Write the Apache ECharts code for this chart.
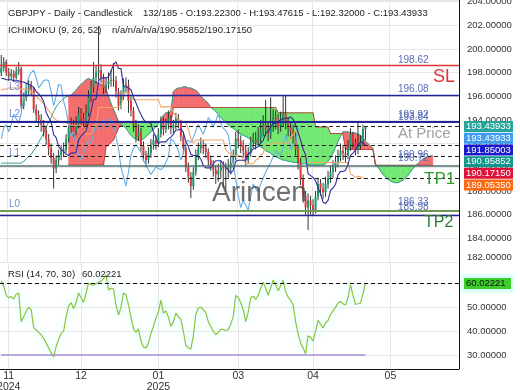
<!DOCTYPE html>
<html><head><meta charset="utf-8">
<script src="https://cdn.jsdelivr.net/npm/echarts@6/dist/echarts.min.js"></script>
<style>html,body{margin:0;padding:0;background:#fff}#c{width:520px;height:390px}</style>
</head><body><div id="c"></div>
<script>
const SLOTS = 184;
const monthIdx = [3, 32, 63, 95, 125, 156];
const monthLabels = ['11\n2024', '12', '01\n2025', '03', '04', '05'];

// [open, close, low, high]
const ohlc = [
[198.0,198.4,197.7,199.5],[198.4,198.9,198.1,199.3],[198.9,198.0,197.7,199.1],[198.0,197.7,197.3,198.4],[197.7,197.9,197.4,198.3],
[197.9,197.6,197.2,198.2],[197.6,198.1,197.4,198.5],[198.1,198.3,197.8,198.9],[198.3,195.2,194.9,198.5],[195.2,195.9,194.9,196.3],
[195.9,196.5,195.6,197.1],[196.5,196.9,196.1,197.4],[196.9,196.6,196.1,197.3],[196.6,194.9,194.6,196.8],[194.9,194.4,193.9,195.3],
[194.4,194.0,193.5,194.8],[194.0,193.6,193.0,194.5],[193.6,193.1,192.6,194.0],[193.1,192.4,191.9,193.5],[192.4,191.6,191.0,192.8],
[191.6,190.8,190.3,192.0],[190.8,189.9,188.2,191.2],[189.9,190.6,189.5,191.0],[190.6,191.0,190.2,191.5],[191.0,191.4,190.6,191.9],
[191.4,191.5,190.9,192.1],[191.5,192.4,191.2,192.8],[192.4,193.3,192.1,193.8],[193.3,193.6,192.9,194.2],[193.6,193.0,192.6,194.0],
[193.0,193.6,192.7,194.3],[193.6,194.5,193.3,195.1],[194.5,194.1,193.6,195.0],[194.1,193.7,193.2,194.6],[193.7,194.6,193.4,195.3],
[194.6,195.9,194.3,196.5],[195.9,196.8,195.5,197.3],[196.8,197.6,196.3,198.9],[197.6,198.0,197.1,198.6],[198.0,198.2,197.4,201.9],
[198.2,197.6,197.1,198.7],[197.6,196.7,196.2,197.9],[196.7,197.0,196.3,197.6],[197.0,197.3,196.6,198.0],[197.3,197.4,196.8,198.2],
[197.4,197.3,196.8,198.8],[197.3,196.4,195.9,197.7],[196.4,195.2,194.8,196.7],[195.2,196.0,194.9,196.5],[196.0,197.0,195.7,197.5],
[197.0,196.9,196.3,197.6],[196.9,195.6,194.6,197.4],[195.6,194.8,194.3,196.0],[194.8,193.6,193.0,195.1],[193.6,192.6,192.1,194.0],
[192.6,193.0,192.2,193.6],[193.0,191.8,191.3,193.3],[191.8,191.0,190.5,192.2],[191.0,190.6,190.0,191.4],[190.6,191.2,190.3,191.7],
[191.2,191.9,190.8,192.4],[191.9,192.3,191.5,192.8],[192.3,192.0,191.5,192.7],[192.0,192.8,191.7,193.3],[192.8,193.8,192.5,194.3],
[193.8,193.2,192.7,194.2],[193.2,193.6,192.9,194.1],[193.6,194.1,193.2,194.8],[194.1,193.3,192.8,194.4],[193.3,193.6,192.9,194.0],
[193.6,194.1,193.2,194.6],[194.1,193.8,193.3,194.5],[193.8,192.6,192.2,194.0],[192.6,191.6,191.1,192.9],[191.6,190.0,189.6,191.9],
[190.0,189.2,188.7,190.4],[189.2,188.4,187.4,189.6],[188.4,189.6,188.1,190.0],[189.6,191.0,189.3,191.5],[191.0,191.6,190.6,192.1],
[191.6,191.9,191.2,192.5],[191.9,191.6,191.1,192.3],[191.6,191.3,190.8,192.0],[191.3,190.6,190.1,191.6],[190.6,190.2,189.7,191.0],
[190.2,189.8,189.2,190.6],[189.8,189.4,188.6,190.2],[189.4,189.7,188.8,190.3],[189.7,190.0,189.1,190.6],[190.0,189.9,188.3,190.5],
[189.9,189.8,188.0,190.4],[189.8,190.0,189.0,190.7],[190.0,190.4,189.4,191.0],[190.4,190.9,189.9,191.5],[190.9,192.4,190.6,193.0],
[192.4,192.2,191.6,193.2],[192.2,191.9,191.2,192.7],[191.9,191.4,190.8,192.3],[191.4,190.6,190.1,191.8],[190.6,191.2,190.3,191.7],
[191.2,192.1,190.9,192.6],[192.1,192.3,191.6,192.9],[192.3,192.1,191.5,193.0],[192.1,192.5,191.8,193.4],[192.5,193.1,192.1,194.0],
[193.1,193.6,192.6,194.4],[193.6,193.2,192.6,195.7],[193.2,192.8,192.2,193.9],[192.8,193.4,192.4,195.9],[193.4,194.2,193.0,194.9],
[194.2,193.9,193.2,194.8],[193.9,193.4,192.8,194.5],[193.4,193.9,193.0,194.7],[193.9,194.5,193.5,196.0],[194.5,193.7,193.2,196.1],
[193.7,193.3,192.6,194.2],[193.3,193.1,192.4,193.9],[193.1,192.7,192.0,193.6],[192.7,191.5,191.0,193.0],[191.5,190.4,189.8,191.9],
[190.4,189.0,188.5,190.8],[189.0,187.6,187.0,189.4],[187.6,186.6,186.0,188.0],[186.6,187.2,184.7,187.8],[187.2,186.8,186.0,187.6],
[186.8,186.4,185.9,187.3],[186.4,187.5,186.1,188.0],[187.5,188.6,187.2,189.1],[188.6,188.2,187.6,189.0],[188.2,187.9,187.3,188.7],
[187.9,188.6,187.5,189.2],[188.6,189.1,188.2,189.7],[189.1,189.6,188.7,190.2],[189.6,190.0,189.1,190.6],[190.0,190.4,189.6,191.0],
[190.4,190.9,190.0,191.5],[190.9,191.4,190.5,192.0],[191.4,191.2,190.6,191.9],[191.2,191.0,190.4,191.7],[191.0,191.7,190.7,192.3],
[191.7,192.8,191.4,193.3],[192.8,192.1,191.6,193.0],[192.1,191.5,191.0,192.4],[191.5,191.9,191.1,193.8],[191.9,192.1,191.5,192.7],
[192.1,193.22,191.8,193.6],[193.223,193.43933,192.32,193.47615]
];

const tenkan = [
197.5,197.5,197.4,197.4,197.4,197.3,197.3,197.3,197.2,197.2,197.1,197.0,196.9,196.75,196.4,196.2,
195.95,195.55,194.65,194.2,193.85,192.75,192.5,191.75,191.5,191.35,191.1,191.0,191.2,191.2,191.25,192.3,
192.65,192.85,193.1,193.85,194.7,195.75,195.75,197.3,197.55,197.55,197.55,197.65,198.1,198.7,198.9,198.35,
198.35,196.8,196.8,196.7,196.55,195.9,195.45,194.9,194.45,194.05,193.8,193.8,193.7,193.0,192.55,192.0,
192.15,192.15,192.15,192.4,192.55,192.8,193.15,193.15,193.25,192.95,192.2,191.75,191.1,
191.0,191.0,190.95,190.7,190.15,189.95,189.95,189.95,190.3,190.55,190.55,190.55,190.3,190.0,189.8,189.5,
189.75,190.5,190.6,190.6,190.6,190.6,191.1,191.3,191.55,191.65,191.75,192.05,192.25,192.9,193.0,193.4,
193.7,193.7,193.85,194.0,194.1,194.15,194.15,194.25,194.05,193.55,192.95,192.3,191.55,191.05,189.45,189.3,
189.15,188.85,188.3,187.75,187.05,186.95,187.2,188.05,188.25,188.55,189.35,189.65,189.65,189.75,190.25,191.0,
191.2,191.45,191.9,192.1,192.1,191.85
];

const kijun = [
196.5,196.6,196.6,196.7,196.7,196.7,196.7,196.7,196.6,196.6,196.6,196.5,196.4,
196.2,196.0,195.8,195.6,195.4,195.1,194.8,194.5,194.2,194.0,193.9,193.85,
193.85,193.75,193.65,193.55,193.55,193.55,193.55,193.55,193.35,192.8,192.8,192.8,193.55,193.55,
195.05,195.05,195.05,195.05,195.05,195.05,195.05,195.05,195.1,195.1,
196.3,196.3,196.3,196.0,
195.7,195.7,195.7,195.7,195.7,195.7,195.7,195.7,195.7,195.7,195.7,
195.1,195.1,195.1,195.1,195.1,
194.6,194.3,194.0,193.85,193.85,193.75,193.25,192.45,192.05,
192.3,192.3,192.3,192.3,192.3,192.3,192.3,192.3,192.3,192.3,192.3,192.3,
191.5,191.25,191.15,191.0,191.0,191.0,190.95,190.7,190.3,190.3,190.3,190.3,
190.6,190.7,191.0,191.2,191.85,191.85,191.95,192.05,192.05,192.05,192.05,192.05,192.05,192.05,
192.55,192.75,193.0,192.95,192.3,191.55,191.05,
190.4,190.4,190.4,190.4,190.4,190.4,190.4,190.4,190.4,190.4,190.4,190.4,190.4,190.4,190.4,190.4,190.4,
189.45,189.3,189.15,189.25,189.2,189.1,189.05
];

const spanA = [
190.35,190.35,190.35,190.35,190.35,190.35,190.35,190.35,190.35,
190.5,190.7,190.9,191.1,191.4,191.7,192.1,192.5,192.9,193.4,193.8,194.2,194.7,195.1,195.4,195.6,195.8,195.95,196.0,
196.1,196.3,196.5,196.8,197.0,197.2,197.4,197.5,197.4,197.3,197.2,197.1,197.0,196.9,196.6,196.0,195.4,194.9,194.4,193.9,193.6,193.5,
193.3,193.0,192.7,192.5,192.4,192.3,192.3,192.4,192.6,192.8,193.0,193.2,193.4,193.7,194.0,
194.4,194.6,194.6,194.7,196.4,196.6,196.7,196.7,196.8,196.8,196.7,196.7,196.6,196.5,196.3,196.0,195.8,195.6,195.4,195.05,
194.9,194.7,194.5,194.2,194.0,193.8,193.6,193.4,193.3,193.1,192.9,192.8,192.7,192.6,192.5,192.3,192.1,192.0,191.9,191.7,
191.6,191.4,191.3,191.2,191.0,190.9,190.8,190.7,190.6,190.6,190.5,190.5,190.4,190.4,190.4,190.3,190.3,190.3,190.2,190.2,
190.2,190.2,190.2,190.2,190.2,190.3,190.5,190.8,191.2,191.7,192.2,192.6,193.0,
193.0,193.0,192.9,192.9,192.9,192.8,192.7,192.5,192.2,192.0,191.8,191.6,190.3,190.0,189.7,189.4,189.2,189.0,188.85,188.75,
188.7,188.7,188.8,188.9,189.1,189.3,189.6,189.9,190.1,190.3,190.5,190.7,190.8,190.9,190.95,190.95852
];

const spanB = [
null,null,null,null,null,null,null,null,null,null,null,null,null,null,null,null,null,null,null,null,null,null,null,null,null,null,null,
190.2,190.2,190.2,190.2,190.2,190.2,190.2,190.2,190.2,190.2,190.2,190.2,190.2,190.2,190.2,
191.7,191.9,192.1,192.3,192.8,193.3,193.6,
193.8,193.8,193.8,193.8,193.8,193.8,193.8,193.8,193.8,193.8,193.8,193.8,193.8,193.8,193.8,193.8,193.8,193.8,193.8,193.8,
195.05,195.05,195.05,195.05,195.05,195.05,195.05,195.05,195.05,195.05,195.05,195.05,195.05,195.05,195.05,195.05,195.05,195.05,195.05,195.05,195.05,
195.05,195.05,195.05,195.05,195.05,195.05,195.05,195.05,195.05,195.05,195.05,195.05,195.05,195.05,195.05,195.05,195.05,195.05,195.05,195.05,195.05,
194.6,194.6,194.6,194.6,194.6,194.6,194.6,194.6,194.6,194.6,194.6,194.6,194.6,194.6,194.6,
193.4,193.4,193.4,193.4,193.4,193.4,
192.85,192.85,192.85,192.85,192.85,192.85,
191.5,191.5,191.5,191.5,191.5,191.5,191.5,191.5,191.5,191.5,191.5,191.5,
190.1715,190.1715,190.1715,190.1715,190.1715,190.1715,190.1715,190.1715,190.1715,190.1715,190.1715,190.1715,
190.1715,190.1715,190.1715,190.1715,190.1715,190.1715,190.1715,190.1715,190.1715,190.1715,190.1715,190.1715
];

const rsi = [
61,59,55,54,54.5,53.5,55.5,56,44,46,48.5,50,49,41.5,40.5,39.5,38.5,37,35,33,
31,29.2,33.5,36.5,39,40,46,50.5,52,49.5,52,56,54,52,56,60.2,59.5,59.4,60,60.5,
61,62,63.5,57.3,58,57.8,51,46.8,50,56,55.3,51,46,41,39.5,41,36,33.4,32.9,35,
39,42,45.5,48,53,47.6,48.5,46,42,44,47.6,46,45,40,34,33,32.5,38,47,49.7,
50.1,49,47.8,44,42,40,38.5,39.5,40.9,40.6,40.3,40.6,43,46,55,54,52,49,44,48,
54,54.6,53.3,55,58,60.5,58,55,58,61.4,59.5,57,59,61.4,56.5,54.3,53,51,44,39,
35,33,30.5,38,37.5,35.8,40,44.5,43,41.3,43.5,44.5,47,48.5,50,51.8,52.5,51.5,51,54,
59.4,55,51.2,51.5,51.8,55.5,60.02221
];

const levelValues = [198.62, 196.08, 193.92, 193.84, 193.43933, 191.85003, 190.95852, 190.1715, 189.0535, 186.33, 185.98];
const levelTexts = ['198.62', '196.08', '193.92', '193.84', '190.96', '190.72', '186.33', '185.98'];
const levelTextValues = [198.62, 196.08, 193.92, 193.84, 190.96, 190.72, 186.33, 185.98];
const tagValues = [193.43933, 193.43933, 191.85003, 190.95852, 190.17150, 189.05350];
const rsiLast = 60.02221;
const rsiGridValues = [30, 40, 50, 60];

const categories = [];
for (let i = 0; i < SLOTS; i++) categories.push(i);
const closes = ohlc.map(d => d[1]);
const chikou = closes.slice(26);  // close displaced 26 bars back

const FONT = 'Liberation Sans, Arial, sans-serif';
const chart = echarts.init(document.getElementById('c'), null, {renderer: 'canvas'});
const isMonth = (idx) => monthIdx.indexOf(idx) >= 0;
const RED = '#f46d6d', GREEN = '#72e872';

const levelStyles = [
  {color:'#e03535', width:1.3, type:'solid'},
  {color:'#23239a', width:1.3, type:'solid'},
  {color:'#23239a', width:1, type:'solid'},
  {color:'#23239a', width:1, type:'solid'},
  {color:'#222', width:1, type:[4,3]},
  {color:'#222', width:1, type:[4,3]},
  {color:'#222', width:1, type:[4,3]},
  {color:'#4c7272', width:1.6, type:'solid'},
  {color:'#222', width:1, type:[4,3]},
  {color:'#6f9a55', width:2, type:'solid'},
  {color:'#23239a', width:1.3, type:'solid'}
];

function cloudRender(params, api) {
  if (params.dataIndex !== 0) return null;
  const children = [];
  const poly = (pts, c) => children.push({type:'polygon', shape:{points:pts}, style:{fill:c, stroke:c, lineWidth:0.6}});
  for (let i = 0; i < spanA.length - 1; i++) {
    const a0 = spanA[i], b0 = spanB[i], a1 = spanA[i+1], b1 = spanB[i+1];
    if (a0 == null || b0 == null || a1 == null || b1 == null) continue;
    const pA0 = api.coord([i, a0]), pB0 = api.coord([i, b0]), pA1 = api.coord([i+1, a1]), pB1 = api.coord([i+1, b1]);
    const d0 = a0 - b0, d1 = a1 - b1;
    if (d0 * d1 >= 0) {
      if (d0 === 0 && d1 === 0) continue;
      poly([pA0, pA1, pB1, pB0], (d0 + d1) > 0 ? RED : GREEN);
    } else {
      const t = d0 / (d0 - d1);
      const p = [pA0[0] + t*(pA1[0]-pA0[0]), pA0[1] + t*(pA1[1]-pA0[1])];
      poly([pA0, p, pB0], d0 > 0 ? RED : GREEN);
      poly([p, pA1, pB1], d1 > 0 ? RED : GREEN);
    }
  }
  return {type:'group', children: children};
}

const rsiMarks = rsiGridValues.map(v => ({yAxis: v, lineStyle:{color:'#e6e6e6', width:1, type:'solid'}}));
monthIdx.forEach(m => rsiMarks.push([{coord:[m, 24.1], lineStyle:{color:'#e6e6e6', width:1, type:'solid'}}, {coord:[m, 69]}]));

const option = {
  animation: false,
  backgroundColor: '#fff',
  grid: [
    {left: 0, right: 61, top: 0, height: 262, outerBoundsMode: 'none', containLabel: false},
    {left: 0, right: 61, top: 262, height: 116.9, outerBoundsMode: 'none', containLabel: false},
    {left: 0, right: 61, top: 262, height: 107, outerBoundsMode: 'none', containLabel: false}
  ],
  xAxis: [
    {type:'category', gridIndex:0, data:categories, boundaryGap:true,
     axisLine:{show:false}, axisTick:{show:false}, axisLabel:{show:false},
     splitLine:{show:true, interval:(i)=>isMonth(i), lineStyle:{color:'#e6e6e6'}}},
    {type:'category', gridIndex:1, data:categories, boundaryGap:true,
     axisLine:{show:false}, axisTick:{show:false}, axisLabel:{show:false}, splitLine:{show:false}},
    {type:'category', gridIndex:2, data:categories, boundaryGap:true,
     axisLine:{show:true, onZero:false, lineStyle:{color:'#111', width:1}}, axisTick:{show:false},
     axisLabel:{show:false}, splitLine:{show:false}}
  ],
  yAxis: [
    {type:'value', gridIndex:0, position:'right', min:182, max:204.13, interval:2,
     axisLine:{show:false}, axisTick:{show:false},
     axisLabel:{color:'#333', fontSize:9.5, fontFamily:FONT, margin:8, verticalAlignMinLabel:'bottom',
       formatter:(v)=> Math.abs(v/2 - Math.round(v/2)) < 1e-6 ? v.toFixed(5) : ''},
     splitLine:{show:true, lineStyle:{color:'#e6e6e6'}}},
    {type:'value', gridIndex:1, position:'right', min:20, max:69, interval:10,
     axisLine:{show:false}, axisTick:{show:false},
     axisLabel:{color:'#333', fontSize:9.5, fontFamily:FONT, margin:8,
       formatter:(v)=> (v >= 30 && v <= 60 && Math.abs(v/10 - Math.round(v/10)) < 1e-6) ? v.toFixed(5) : ''},
     splitLine:{show:false}},
    {type:'value', gridIndex:2, min:0, max:1, show:false}
  ],
  series: [
    {type:'custom', name:'cloud', xAxisIndex:0, yAxisIndex:0, z:1, clip:true,
     data: [[0, spanA[0]]], encode:{x:0, y:1}, renderItem: cloudRender},
    {type:'line', name:'spanA', data:spanA, xAxisIndex:0, yAxisIndex:0, z:2, showSymbol:false, connectNulls:false,
     lineStyle:{color:'#2f9c8a', width:1}},
    {type:'line', name:'spanB', data:spanB, xAxisIndex:0, yAxisIndex:0, z:2, showSymbol:false, connectNulls:false,
     lineStyle:{color:'#b8473f', width:1}},
    {type:'custom', name:'candles', xAxisIndex:0, yAxisIndex:0, z:3, clip:true,
     data: ohlc.map((d,i)=>[i, d[0], d[1], d[2], d[3]]), encode:{x:0, y:[1,2,3,4]},
     renderItem: function(params, api){
       const i = api.value(0), o = api.value(1), c = api.value(2), l = api.value(3), h = api.value(4);
       const pO = api.coord([i,o]), pC = api.coord([i,c]), pL = api.coord([i,l]), pH = api.coord([i,h]);
       const x = pO[0];
       const bw = 2.0;
       const colr = c >= o ? '#169a68' : '#e4363a';
       const top = Math.min(pO[1], pC[1]);
       const hh = Math.max(Math.abs(pO[1]-pC[1]), 1);
       return {type:'group', children:[
         {type:'line', shape:{x1:x, y1:pH[1], x2:x, y2:pL[1]}, style:{stroke:'#1e1e1e', lineWidth:0.9}},
         {type:'rect', shape:{x:x-bw/2, y:top, width:bw, height:hh}, style:{fill:colr}}
       ]};
     }},
    {type:'line', name:'chikou', data:chikou, xAxisIndex:0, yAxisIndex:0, z:4, showSymbol:false,
     lineStyle:{color:'#67ade3', width:1.1}},
    {type:'line', name:'kijun', data:kijun, xAxisIndex:0, yAxisIndex:0, z:4, showSymbol:false,
     lineStyle:{color:'#f2a46a', width:1.1}},
    {type:'line', name:'tenkan', data:tenkan, xAxisIndex:0, yAxisIndex:0, z:5, showSymbol:false,
     lineStyle:{color:'#2c2c9c', width:1.1},
     markLine:{silent:true, symbol:'none', z:6, label:{show:false},
       data: levelValues.map((v,k)=>({yAxis:v, lineStyle:levelStyles[k]}))}},
    {type:'line', name:'rsiGrid', data:[], xAxisIndex:1, yAxisIndex:1, z:1, showSymbol:false,
     markLine:{silent:true, symbol:'none', label:{show:false}, z:1, data: rsiMarks}},
    {type:'line', name:'rsi', data:rsi, xAxisIndex:1, yAxisIndex:1, z:3, showSymbol:false,
     lineStyle:{color:'#8cc43c', width:1.2, shadowColor:'rgba(160,255,255,0.9)', shadowBlur:8},
     markLine:{silent:true, symbol:'none', label:{show:false},
       data:[
         {yAxis:rsiLast, lineStyle:{color:'#111', type:[4,3], width:1}},
         [{coord:[0,30], lineStyle:{color:'#a88fe0', width:1.6, type:'solid'}}, {coord:[146,30]}]
       ]}}
  ]
};
chart.setOption(option);

function py(v){ return chart.convertToPixel({xAxisIndex:0, yAxisIndex:0}, [0, v])[1]; }
function ry(v){ return chart.convertToPixel({xAxisIndex:1, yAxisIndex:1}, [0, v])[1]; }
function px(i){ return chart.convertToPixel({xAxisIndex:0, yAxisIndex:0}, [i, 190])[0]; }

const g = [];
function txt(x, y, s, opt){
  g.push({type:'text', x:x, y:y, z:100, style:Object.assign({text:s, font:'9.5px '+FONT, fill:'#222', verticalAlign:'middle', align:'left'}, opt||{})});
}
// right axis line
g.push({type:'line', z:90, shape:{x1:459.5, y1:0, x2:459.5, y2:369}, style:{stroke:'#111', lineWidth:1}});
// month labels under the time axis
monthIdx.forEach((m,k)=>{
  g.push({type:'text', x:px(m), y:371, z:100, style:{text:monthLabels[k], font:'10.5px '+FONT, fill:'#333',
    align:'center', verticalAlign:'top', lineHeight:11}});
});
// header
txt(8, 13, 'GBPJPY - Daily - Candlestick');
txt(143, 13, '132/185 - O:193.22300 - H:193.47615 - L:192.32000 - C:193.43933');
txt(8, 30, 'ICHIMOKU (9, 26, 52)');
txt(112, 30, 'n/a/n/a/n/a/190.95852/190.17150');
// level labels
const lvOff = [-5, -6, -6, -5, -1, -1, -8, -8];
levelTexts.forEach((s,k)=> txt(398, py(levelTextValues[k]) + lvOff[k], s, {fill:'#5a6db8', font:'10px '+FONT}));
txt(433, py(198.62) + 12, 'SL', {fill:'#e53030', font:'18px '+FONT});
txt(398, py(193.43933) + 7, 'At Price', {fill:'#a0a0a0', font:'15px '+FONT});
txt(424, py(189.0535) + 1, 'TP1', {fill:'#2f9a2f', font:'17px '+FONT});
txt(424, py(186.33) + 12, 'TP2', {fill:'#2e7d32', font:'16px '+FONT});
txt(9, py(196.08) - 8, 'L3', {fill:'#6d8fd2', font:'10px '+FONT});
txt(9, py(193.84) - 8, 'L2', {fill:'#6d8fd2', font:'10px '+FONT});
txt(9, py(190.72) - 6, 'L1', {fill:'#6d8fd2', font:'10px '+FONT});
txt(9, py(186.33) - 6, 'L0', {fill:'#6d8fd2', font:'10px '+FONT});
// watermark
txt(212, 193, 'Arincen', {fill:'rgba(70,70,70,0.78)', font:'28px '+FONT});
// right tags
const tagColors = ['#26a69a', '#3d9cf0', '#1a1acc', '#10978a', '#dc143c', '#ff6a10'];
let prev = -1e9;
tagValues.forEach((v,k)=>{
  let y = Math.max(py(v), prev + 11.7);
  prev = y;
  g.push({type:'rect', z:99, shape:{x:464, y:y-5.5, width:49, height:11}, style:{fill:tagColors[k]}});
  txt(466, y, v.toFixed(5), {fill:'#fff'});
});
// RSI header & tag
txt(8, 274, 'RSI (14, 70, 30)');
txt(82, 274, rsiLast.toFixed(5));
const yr = ry(rsiLast);
g.push({type:'rect', z:98, shape:{x:461, y:yr-9, width:53, height:18}, style:{fill:'#d8ffff'}});
g.push({type:'rect', z:99, shape:{x:464, y:yr-5.5, width:47, height:11}, style:{fill:'#3ccc2c'}});
txt(466, yr, rsiLast.toFixed(5), {fill:'#111'});
chart.setOption({graphic: g});
</script></body></html>
